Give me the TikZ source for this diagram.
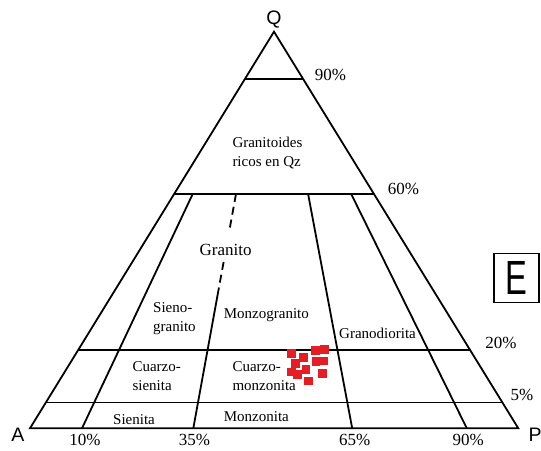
\documentclass[tikz,border=0pt]{standalone}
\usepackage{fontspec}
\setmainfont{Liberation Serif}
\newfontfamily\labsans{Liberation Sans}
\usetikzlibrary{calc}
\definecolor{sampred}{RGB}{228,30,36}
\tikzset{
  frame/.style={line width=1.8pt, line join=miter},
  divline/.style={line width=1.8pt},
  dashline/.style={line width=1.8pt, dash pattern=on 8pt off 5pt},
  region/.style={font=\fontsize{15}{19}\selectfont, inner sep=0pt, align=left, anchor=west},
  pct/.style={font=\fontsize{17}{19}\selectfont, inner sep=0pt},
  apexlab/.style={font=\labsans\fontsize{19.5}{20}\selectfont, inner sep=0pt},
  sample/.style={fill=sampred, draw=none, minimum size=8.8pt, inner sep=0pt, rectangle},
}
\begin{document}
\begin{tikzpicture}[x=1pt,y=-1pt]
\useasboundingbox (0,0) rectangle (541,450);
% corners
\coordinate (A) at (30,428.3);
\coordinate (P) at (518.3,428.3);
\coordinate (Q) at (274,31.7);
% horizontal divisions
\coordinate (L90) at (245.1,78.6);  \coordinate (R90) at (302.9,78.6);
\coordinate (L60) at (174.2,194);   \coordinate (R60) at (374.0,194);
\coordinate (L20) at (78.4,349.6);  \coordinate (R20) at (469.8,349.6);
\coordinate (L5)  at (45.9,402.5);  \coordinate (R5)  at (502.4,402.5);
% radial divisions
\coordinate (T10) at (192.7,194);  \coordinate (B10) at (82,428.3);
\coordinate (T35) at (236,194);    \coordinate (B35) at (193.3,428.3);
\coordinate (T65) at (308.1,194);  \coordinate (B65) at (352.2,428.3);
\coordinate (T90) at (351.2,194);  \coordinate (B90) at (466.8,428.3);

\draw[frame] (A) -- (Q) -- (P) -- cycle;
\draw[divline] (L90) -- (R90);
\draw[divline] (L60) -- (R60);
\draw[divline] (L20) -- (R20);
\draw[divline] (L5) -- (R5);
\draw[divline] (T10) -- (B10);
\draw[divline] (T65) -- (B65);
\draw[divline] (T90) -- (B90);
\draw[dashline] (T35) -- ($(T35)!0.162!(B35)$);
\draw[dashline] ($(T35)!0.29!(B35)$) -- ($(T35)!0.4225!(B35)$);
\draw[divline] ($(T35)!0.4225!(B35)$) -- (B35);

% apex labels
\node[apexlab] (lq) at (274,20) {Q};
\node[apexlab] (la) at (18,434.5) {A};
\node[apexlab] (lp) at (535,434.5) {P};

% percentages
\node[pct] (p90) at (330.5,74.5) {90\%};
\node[pct] (p60) at (403.5,189) {60\%};
\node[pct] (p20) at (501,343) {20\%};
\node[pct] (p5)  at (522,395) {5\%};
\node[pct] (b10) at (85,440.3) {10\%};
\node[pct] (b35) at (194.4,440.3) {35\%};
\node[pct] (b65) at (354.6,440.3) {65\%};
\node[pct] (b90) at (468.3,440.3) {90\%};

% region names
\node[region] (rqz) at (232.3,153.5) {Granitoides\\ricos en Qz};
\node[region, font=\fontsize{17}{19}\selectfont] (rgr) at (199.5,250) {Granito};
\node[region] (rsg) at (153,318.5) {Sieno-\\granito};
\node[region] (rmg) at (223.7,315.5) {Monzogranito};
\node[region] (rgd) at (339,333.6) {Granodiorita};
\node[region] (rqs) at (132.3,376) {Cuarzo-\\sienita};
\node[region] (rqm) at (232.3,376) {Cuarzo-\\monzonita};
\node[region] (rsi) at (113,419.2) {Sienita};
\node[region] (rmo) at (223.7,416.6) {Monzonita};

% samples
\foreach \i/\x/\y in {1/291.8/353.5, 2/303.5/357.2, 3/315.5/350.5, 4/324.3/349.2,
  5/295.6/363.2, 6/316/361.5, 7/324/361, 8/306/369.2, 9/291.8/372,
  10/297.5/374.5, 11/322.3/373.5, 12/308.6/381}
  \node[sample] (s\i) at (\x,\y) {};

% panel letter
\node[draw, line width=1.2pt, minimum width=45pt, minimum height=49.5pt, inner sep=0pt] (panel) at (516.5,278) {};
\node[font=\labsans\fontsize{48}{48}\selectfont, inner sep=0pt, xscale=0.68] (pe) at (516.3,278) {E};
\end{tikzpicture}
\end{document}
